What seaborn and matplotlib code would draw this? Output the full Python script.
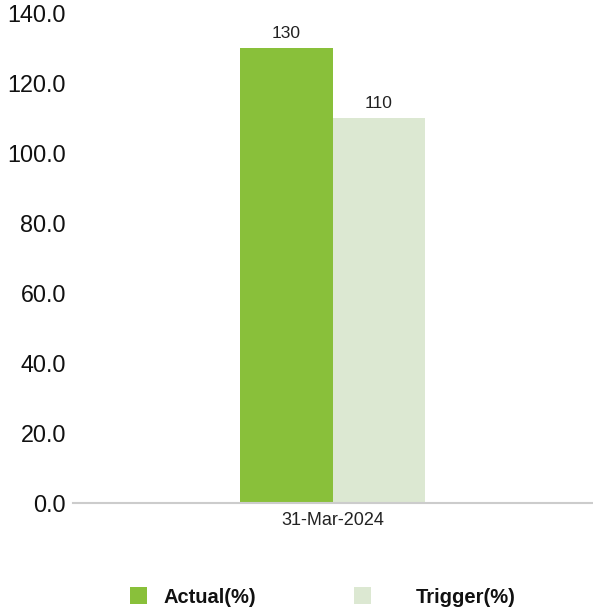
import matplotlib
matplotlib.use("Agg")
import matplotlib.pyplot as plt
from matplotlib.patches import Patch
import seaborn as sns
import pandas as pd

dates = ["31-Mar-2024"]
series = ["Actual(%)", "Trigger(%)"]
actual = [130]
trigger = [110]
colors = ["#89C03A", "#DCE8D2"]

df = pd.DataFrame({
    "date": dates * 2,
    "series": [series[0]] * len(dates) + [series[1]] * len(dates),
    "value": actual + trigger,
})

sns.set_style("white")
plt.rcParams["font.family"] = ["Liberation Sans", "DejaVu Sans"]

W, H = 593, 613
fig = plt.figure(figsize=(W / 100, H / 100), dpi=100)
ax = fig.add_axes([73 / W, 1 - 503.3 / H, (592 - 73) / W, (503.3 - 13) / H])

sns.barplot(data=df, x="date", y="value", hue="series", palette=colors,
            width=0.356, saturation=1, linewidth=0, ax=ax, legend=False)

for container in ax.containers:
    ax.bar_label(container, fmt="%g", padding=5, fontsize=12.5, color="#222222")

ax.set_ylim(0, 140)
ax.set_xlim(-0.5, 0.5)
ax.set_yticks(range(0, 141, 20))
ax.set_yticklabels([f"{v:.1f}" for v in range(0, 141, 20)], fontsize=16.8, color="#111111")
ax.tick_params(axis="y", length=0, pad=5)
ax.tick_params(axis="x", length=0, pad=6, labelsize=13, labelcolor="#222222")
ax.set_xlabel("")
ax.set_ylabel("")
for side in ["left", "right", "top"]:
    ax.spines[side].set_visible(False)
ax.spines["bottom"].set_color("#cccccc")
ax.spines["bottom"].set_linewidth(1.5)

# two legend entries, each placed on its own column of the footer
legend_x = [130 / W, 354 / W]
text_pads = [0.8, 2.2]
for i, (name, col) in enumerate(zip(series, colors)):
    leg = fig.legend([Patch(facecolor=col, edgecolor="none")], [name],
                     loc="center left", bbox_to_anchor=(legend_x[i], 1 - 597 / H),
                     frameon=False, prop={"weight": "bold", "size": 14.5},
                     handlelength=0.85, handleheight=0.85,
                     handletextpad=text_pads[i], borderpad=0, borderaxespad=0)
    for t in leg.get_texts():
        t.set_color("#111111")

fig.savefig("out.png", dpi=100)
